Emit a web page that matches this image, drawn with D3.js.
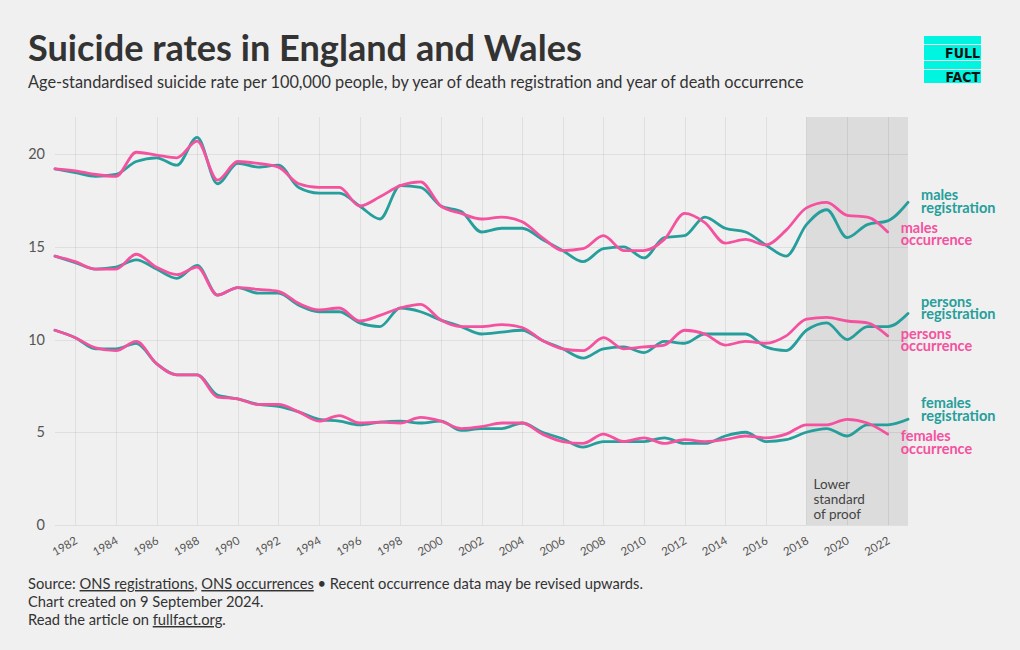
<!DOCTYPE html>
<html><head><meta charset="utf-8">
<script src="https://cdn.jsdelivr.net/npm/d3@7"></script>
<style>
html,body{margin:0;padding:0;background:#f0f0f0;}
svg{display:block;font-family:Lato, "Noto Sans", sans-serif;}
</style></head>
<body>
<svg id="chart" width="1020" height="650"></svg>
<script>
const years = d3.range(1981, 2024);
const occYears = d3.range(1981, 2023);

const malesRegistration = [19.2,19.0,18.8,18.9,19.6,19.8,19.4,20.9,18.4,19.5,
  19.3,19.4,18.2,17.9,17.9,17.2,16.5,18.3,18.2,17.2,
  16.9,15.8,16.0,16.0,15.4,14.8,14.2,14.9,15.0,14.4,
  15.5,15.6,16.6,16.0,15.8,15.1,14.5,16.2,17.0,15.5,
  16.2,16.4,17.4];
const malesOccurrence = [19.2,19.1,18.9,18.8,20.1,19.95,19.8,20.7,18.6,19.6,
  19.5,19.3,18.4,18.2,18.2,17.2,17.7,18.3,18.5,17.2,
  16.8,16.5,16.6,16.35,15.5,14.8,14.9,15.6,14.8,14.8,
  15.4,16.8,16.3,15.2,15.4,15.1,15.9,17.1,17.4,16.7,
  16.6,15.8];
const personsRegistration = [14.5,14.15,13.8,13.9,14.3,13.8,13.3,14.0,12.4,12.8,
  12.5,12.5,11.85,11.5,11.5,10.9,10.7,11.7,11.5,11.05,
  10.7,10.3,10.4,10.5,9.95,9.5,9.0,9.5,9.6,9.3,
  9.9,9.8,10.3,10.3,10.3,9.6,9.4,10.5,10.9,10.0,
  10.7,10.7,11.4];
const personsOccurrence = [14.5,14.2,13.8,13.8,14.6,13.9,13.5,13.9,12.4,12.8,
  12.7,12.6,11.95,11.6,11.7,11.0,11.3,11.7,11.9,11.05,
  10.7,10.7,10.8,10.65,9.95,9.5,9.4,10.1,9.5,9.6,
  9.7,10.5,10.3,9.7,9.9,9.8,10.2,11.1,11.2,11.0,
  10.9,10.2];
const femalesRegistration = [10.5,10.1,9.5,9.5,9.8,8.7,8.1,8.1,7.0,6.8,
  6.5,6.4,6.1,5.7,5.6,5.4,5.55,5.6,5.5,5.6,
  5.1,5.2,5.2,5.5,5.0,4.65,4.2,4.5,4.5,4.5,
  4.7,4.4,4.4,4.8,5.0,4.5,4.6,5.0,5.2,4.8,
  5.4,5.4,5.7];
const femalesOccurrence = [10.5,10.1,9.55,9.4,9.9,8.7,8.1,8.1,6.9,6.8,
  6.5,6.5,6.1,5.6,5.9,5.5,5.55,5.5,5.8,5.6,
  5.2,5.3,5.5,5.5,4.9,4.5,4.4,4.9,4.5,4.7,
  4.4,4.6,4.5,4.6,4.8,4.7,4.9,5.4,5.4,5.7,
  5.5,4.9];

const yTicks = [0, 5, 10, 15, 20];
const xTicks = d3.range(1982, 2023, 2);
const shadeRange = [2018, 2023];
const shadeLabel = ["Lower", "standard", "of proof"];

const title = "Suicide rates in England and Wales";
const subtitle = "Age-standardised suicide rate per 100,000 people, by year of death registration and year of death occurrence";

const series = [
  {name:["males","registration"], kind:"reg", x:years, v:malesRegistration, dy:-2},
  {name:["persons","registration"], kind:"reg", x:years, v:personsRegistration, dy:-7},
  {name:["females","registration"], kind:"reg", x:years, v:femalesRegistration, dy:-11},
  {name:["males","occurrence"], kind:"occ", x:occYears, v:malesOccurrence, dy:1},
  {name:["persons","occurrence"], kind:"occ", x:occYears, v:personsOccurrence, dy:3},
  {name:["females","occurrence"], kind:"occ", x:occYears, v:femalesOccurrence, dy:7}
];

const TEAL = "#269e9b", PINK = "#f4529f";
const svg = d3.select("#chart");
svg.append("rect").attr("width",1020).attr("height",650).attr("fill","#f0f0f0");

const x = d3.scaleLinear().domain([1981, 2023]).range([55, 908]);
const y = d3.scaleLinear().domain([0, 22]).range([525, 117]);

function fit(sel, target){
  const w = sel.node().getComputedTextLength();
  const fs = parseFloat(sel.attr("font-size"));
  sel.attr("font-size", fs * target / w);
}
const t = svg.append("text").attr("x",28).attr("y",61).attr("font-size",32)
  .attr("font-weight",700).attr("fill","#333").text(title);
fit(t, 554);
const st = svg.append("text").attr("x",28).attr("y",88).attr("font-size",15)
  .attr("fill","#333").text(subtitle);
fit(st, 776);

// logo
const logo = svg.append("g");
const CY = "#00f5e1";
logo.append("rect").attr("x",924).attr("y",36).attr("width",57).attr("height",8).attr("fill",CY);
logo.append("rect").attr("x",924).attr("y",45).attr("width",57).attr("height",15).attr("fill",CY);
logo.append("rect").attr("x",924).attr("y",61).attr("width",57).attr("height",8).attr("fill",CY);
logo.append("rect").attr("x",924).attr("y",70).attr("width",57).attr("height",13).attr("fill",CY);
logo.append("text").attr("x",980).attr("y",58).attr("text-anchor","end").attr("font-size",14)
  .attr("font-weight",900).attr("fill","#111").attr("font-family","'DejaVu Sans Condensed', 'Liberation Sans Narrow', sans-serif").text("FULL");
logo.append("text").attr("x",980).attr("y",82).attr("text-anchor","end").attr("font-size",14)
  .attr("font-weight",900).attr("fill","#111").attr("font-family","'DejaVu Sans Condensed', 'Liberation Sans Narrow', sans-serif").text("FACT");

// shaded region
svg.append("rect").attr("x", x(shadeRange[0])).attr("y", y(22))
  .attr("width", x(shadeRange[1]) - x(shadeRange[0])).attr("height", y(0) - y(22))
  .attr("fill","#dcdcdc");

// grid
const grid = svg.append("g").attr("stroke","#000").attr("stroke-opacity",0.07).attr("stroke-width",1);
grid.selectAll(".gy").data(yTicks).join("line")
  .attr("x1", x(1981)).attr("x2", x(2023))
  .attr("y1", d=>Math.round(y(d))+0.5).attr("y2", d=>Math.round(y(d))+0.5);
grid.selectAll(".gx").data(xTicks).join("line")
  .attr("x1", d=>Math.round(x(d))+0.5).attr("x2", d=>Math.round(x(d))+0.5)
  .attr("y1", y(22)).attr("y2", y(0));

// y labels
svg.append("g").selectAll("text").data(yTicks).join("text")
  .attr("x", 45).attr("y", d=>y(d)).attr("dy","0.35em").attr("text-anchor","end")
  .attr("font-size",14.5).attr("fill","#555").text(d=>d);

// x labels
svg.append("g").selectAll("text").data(xTicks).join("text")
  .attr("transform", d=>`translate(${x(d)+3},${543}) rotate(-30)`)
  .attr("text-anchor","end").attr("font-size",11.5).attr("fill","#555").text(d=>d);

// shade label
svg.append("text").attr("font-size",13.5).attr("fill","#444")
  .selectAll("tspan").data(shadeLabel).join("tspan")
  .attr("x", x(shadeRange[0]) + 7).attr("y",(d,i)=>489 + i*15).text(d=>d);

// lines
const line = d3.line().curve(d3.curveMonotoneX);
const order = series.filter(s=>s.kind==="reg").concat(series.filter(s=>s.kind==="occ"));
svg.append("g").selectAll("path").data(order).join("path")
  .attr("fill","none")
  .attr("stroke", s=> s.kind==="reg" ? TEAL : PINK)
  .attr("stroke-width",2.8)
  .attr("stroke-linejoin","round").attr("stroke-linecap","round")
  .attr("d", s=> line(s.v.map((v,i)=>[x(s.x[i]), y(v)])));

// labels
const lab = svg.append("g");
series.forEach(s=>{
  const lastX = s.x[s.x.length-1], lastV = s.v[s.v.length-1];
  const tx = lab.append("text").attr("font-size",14.5).attr("font-weight",700)
    .attr("fill", s.kind==="reg" ? TEAL : PINK);
  s.name.forEach((n,i)=>{
    tx.append("tspan").attr("x", x(lastX) + 13).attr("y", y(lastV) + s.dy + i*12.5).text(n);
  });
});

// footer
const foot = svg.append("g").attr("font-size",14.7).attr("fill","#333");
const f1 = foot.append("text").attr("x",28).attr("y",589);
f1.append("tspan").text("Source: ");
f1.append("tspan").attr("text-decoration","underline").text("ONS registrations");
f1.append("tspan").text(", ");
f1.append("tspan").attr("text-decoration","underline").text("ONS occurrences");
f1.append("tspan").text(" \u2022 Recent occurrence data may be revised upwards.");
foot.append("text").attr("x",28).attr("y",607).text("Chart created on 9 September 2024.");
const f3 = foot.append("text").attr("x",28).attr("y",625);
f3.append("tspan").text("Read the article on ");
f3.append("tspan").attr("text-decoration","underline").text("fullfact.org");
f3.append("tspan").text(".");
</script>
</body></html>
